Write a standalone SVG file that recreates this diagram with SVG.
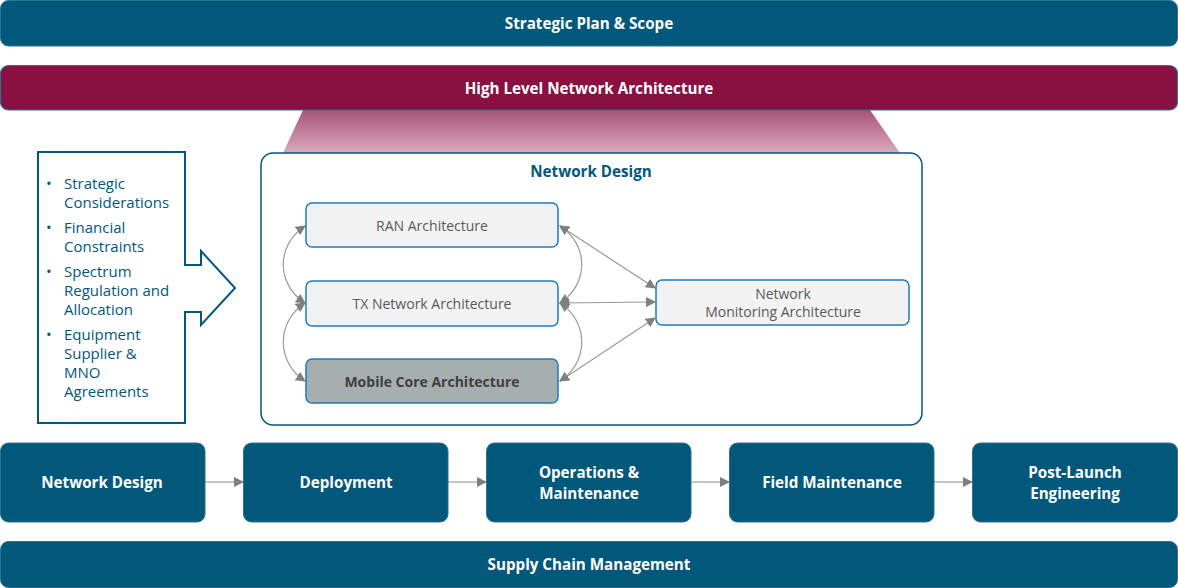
<svg xmlns="http://www.w3.org/2000/svg" width="1178" height="588" viewBox="0 0 1178 588">
<style>
.bar{fill:#02587A;stroke:#2C7391;stroke-width:1}
.wt{fill:#fff;font-family:"Open Sans","Noto Sans",sans-serif;font-weight:bold;font-size:15.2px;text-anchor:middle}
.inner{fill:#F2F2F2;stroke:#1E7BC4;stroke-width:1.5}
.it{fill:#595959;font-family:"Open Sans","Noto Sans",sans-serif;font-size:14px;text-anchor:middle}
.bl{fill:#02587A;font-family:"Open Sans","Noto Sans",sans-serif;font-size:15px}
.con{fill:none;stroke:#9A9A9A;stroke-width:1.2}
.flow{fill:none;stroke:#8C8C8C;stroke-width:1.2}
</style>
<defs>
<linearGradient id="trap" x1="0" y1="0" x2="0" y2="1">
<stop offset="0" stop-color="#A9527A"/>
<stop offset="1" stop-color="#D9AABB"/>
</linearGradient>
<marker id="ah" viewBox="0 0 10 10" refX="9" refY="5" markerWidth="10" markerHeight="10" markerUnits="userSpaceOnUse" orient="auto-start-reverse">
<path d="M0,0 L10,5 L0,10 z" fill="#7F7F7F"/>
</marker>
</defs>

<g id="strategic-plan">
<rect class="bar" x="0.5" y="0.5" width="1177" height="45.5" rx="8"/>
<text class="wt" x="589" y="28.5">Strategic Plan &amp; Scope</text>
</g>

<g id="trapezoid">
<polygon points="303,110 870,110 900,153 283,153" fill="url(#trap)"/>
</g>

<g id="hl-arch">
<rect x="0.5" y="65.5" width="1177" height="44.5" rx="8" fill="#891040" stroke="#2C7391" stroke-width="1.2"/>
<text class="wt" x="589" y="93.5">High Level Network Architecture</text>
</g>

<g id="inputs">
<polygon points="38,152 185,152 185,265 201,265 201,251 235,288 201,325 201,312 185,312 185,423 38,423" fill="#fff" stroke="#02587A" stroke-width="2"/>
<g class="bl">
<text x="46" y="189">•</text><text x="64" y="189">Strategic</text>
<text x="64" y="208">Considerations</text>
<text x="46" y="233">•</text><text x="64" y="233">Financial</text>
<text x="64" y="252">Constraints</text>
<text x="46" y="277">•</text><text x="64" y="277">Spectrum</text>
<text x="64" y="296">Regulation and</text>
<text x="64" y="315">Allocation</text>
<text x="46" y="340">•</text><text x="64" y="340">Equipment</text>
<text x="64" y="359">Supplier &amp;</text>
<text x="64" y="378">MNO</text>
<text x="64" y="397">Agreements</text>
</g>
</g>

<g id="network-design-container">
<rect x="261" y="153" width="661" height="272" rx="12" fill="#fff" stroke="#02587A" stroke-width="1.5"/>
<text x="591" y="177" fill="#02587A" font-family="'Open Sans','Noto Sans',sans-serif" font-weight="bold" font-size="15.2" text-anchor="middle">Network Design</text>
</g>

<g id="connectors">
<path class="con" d="M305,226 C276,245 276,284 305,303" marker-start="url(#ah)" marker-end="url(#ah)"/>
<path class="con" d="M305,303 C276,322 276,362 305,381" marker-start="url(#ah)" marker-end="url(#ah)"/>
<path class="con" d="M560,226 C589,245 589,284 560,303" marker-start="url(#ah)" marker-end="url(#ah)"/>
<path class="con" d="M560,303 C589,322 589,362 560,381" marker-start="url(#ah)" marker-end="url(#ah)"/>
<path class="con" d="M560,226 L655,288" marker-start="url(#ah)" marker-end="url(#ah)"/>
<path class="con" d="M560,303 L655,302" marker-start="url(#ah)" marker-end="url(#ah)"/>
<path class="con" d="M560,381 L655,318" marker-start="url(#ah)" marker-end="url(#ah)"/>
<path class="flow" d="M205,482 L243,482" marker-end="url(#ah)"/>
<path class="flow" d="M448,482 L486,482" marker-end="url(#ah)"/>
<path class="flow" d="M691,482 L729,482" marker-end="url(#ah)"/>
<path class="flow" d="M934,482 L972,482" marker-end="url(#ah)"/>
</g>

<g id="ran">
<rect class="inner" x="306" y="203" width="252" height="44" rx="6"/>
<text class="it" x="432" y="231">RAN Architecture</text>
</g>
<g id="tx">
<rect class="inner" x="306" y="281" width="252" height="45" rx="6"/>
<text class="it" x="432" y="309">TX Network Architecture</text>
</g>
<g id="core">
<rect x="306" y="359" width="252" height="44" rx="6" fill="#A6AEAF" stroke="#1E7BC4" stroke-width="1.5"/>
<text class="it" x="432" y="386.5" font-weight="bold" style="fill:#404040">Mobile Core Architecture</text>
</g>
<g id="monitoring">
<rect class="inner" x="656" y="280" width="253" height="45" rx="6"/>
<text class="it" x="783" y="299">Network</text>
<text class="it" x="783" y="317">Monitoring Architecture</text>
</g>

<g id="step-design">
<rect class="bar" x="0.5" y="443" width="204.5" height="79" rx="8"/>
<text class="wt" x="102" y="488">Network Design</text>
</g>
<g id="step-deployment">
<rect class="bar" x="243.5" y="443" width="204.5" height="79" rx="8"/>
<text class="wt" x="346" y="488">Deployment</text>
</g>
<g id="step-om">
<rect class="bar" x="486.5" y="443" width="204.5" height="79" rx="8"/>
<text class="wt" x="589" y="477.5">Operations &amp;</text>
<text class="wt" x="589" y="498.5">Maintenance</text>
</g>
<g id="step-field">
<rect class="bar" x="729.5" y="443" width="204.5" height="79" rx="8"/>
<text class="wt" x="832" y="488">Field Maintenance</text>
</g>
<g id="step-post">
<rect class="bar" x="972.5" y="443" width="205" height="79" rx="8"/>
<text class="wt" x="1075" y="477.5">Post-Launch</text>
<text class="wt" x="1075" y="498.5">Engineering</text>
</g>

<g id="supply-chain">
<rect class="bar" x="0.5" y="541.5" width="1177" height="46" rx="8"/>
<text class="wt" x="589" y="570">Supply Chain Management</text>
</g>
</svg>
